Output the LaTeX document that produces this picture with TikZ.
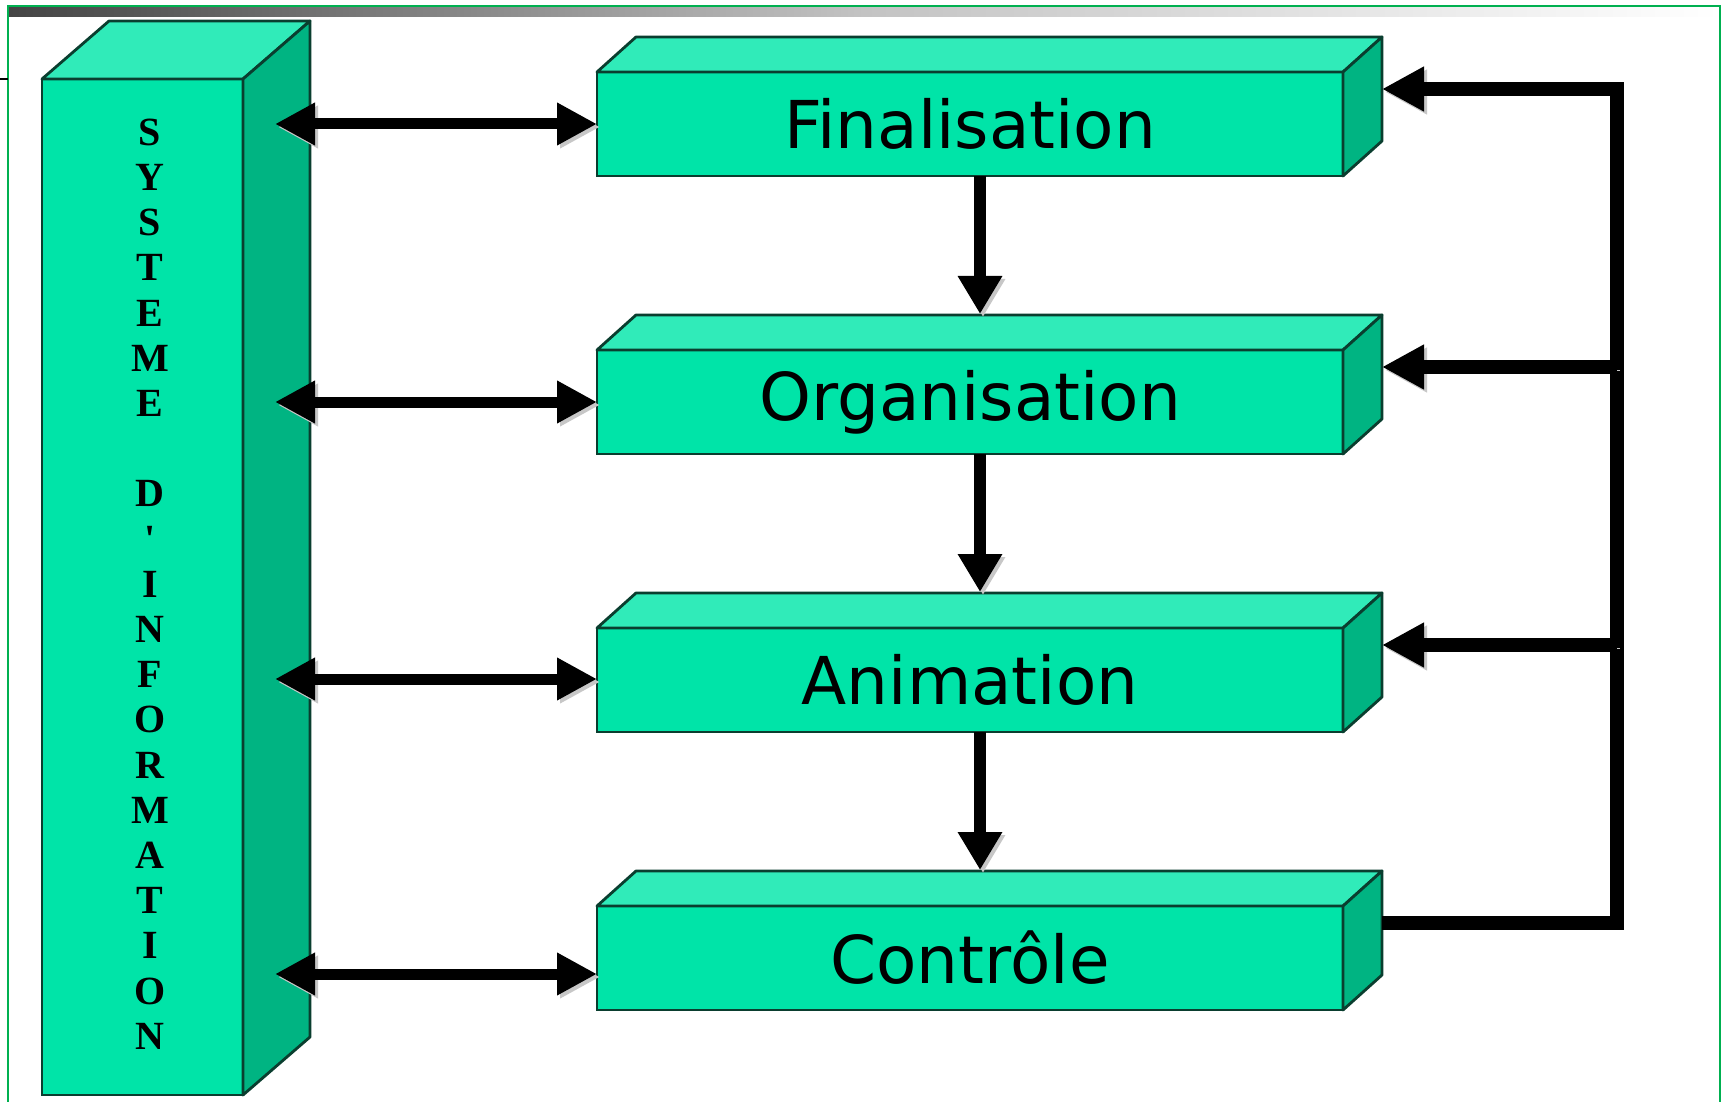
\documentclass[tikz,border=0pt]{standalone}
\usepackage{fontspec}
\newfontfamily\boxfont{DejaVu Sans}
\newfontfamily\colfont{Liberation Serif}[Ligatures=TeXOff]
\usetikzlibrary{arrows.meta,calc}
\definecolor{frontc}{HTML}{00E4A8}
\definecolor{topc}{HTML}{30EBB9}
\definecolor{sidec}{HTML}{00B482}
\definecolor{edgec}{HTML}{0A3E2F}
\definecolor{framec}{HTML}{00B050}
\definecolor{barL}{HTML}{444444}
\definecolor{barM}{HTML}{C3C3C3}
\begin{document}
\begin{tikzpicture}[x=0.5pt,y=-0.5pt,
  stage/.style={draw=edgec, line width=1.4pt, fill=frontc, minimum width=373pt,
    minimum height=52pt, inner sep=0pt, outer sep=0pt,
    font=\boxfont\fontsize{33}{40}\selectfont},
  pillar/.style={draw=edgec, line width=1.4pt, fill=frontc, minimum width=100.5pt,
    minimum height=508pt, inner sep=0pt, outer sep=0pt},
  topface/.style={fill=topc, draw=edgec, line width=1.4pt, line join=round},
  sideface/.style={fill=sidec, draw=edgec, line width=1.4pt, line join=round},
  shadowed/.style={preaction={draw=black!22, transform canvas={xshift=1.5pt,yshift=-1.5pt}}},
  link/.style={shadowed, line width=5.5pt, {Triangle[length=20pt,width=20pt]}-{Triangle[length=20pt,width=20pt]}},
  flow/.style={shadowed, line width=6pt, -{Triangle[length=19pt,width=21pt]}},
  feedback/.style={shadowed, line width=7pt, -{Triangle[length=21pt,width=21pt]}},
]
\useasboundingbox (0,0) rectangle (1721,1102);
\fill[white] (0,0) rectangle (1721,1102);
% header bar and frame
\shade[left color=barL, right color=white, middle color=barM] (9,7) rectangle (1719,17);
\draw[framec, line width=0.8pt] (8,1110) -- (8,6) -- (1720,6) -- (1720,1110);
\draw[black, line width=0.8pt] (0,79) -- (8,79);
% information system pillar
\node[pillar] (si) at (142.5,587) {};
\filldraw[topface] (si.north west) -- ++(67,-58) -- ($(si.north east)+(67,-58)$) -- (si.north east) -- cycle;
\filldraw[sideface] (si.north east) -- ++(67,-58) -- ($(si.south east)+(67,-58)$) -- (si.south east) -- cycle;
\node[font=\colfont\bfseries\fontsize{20}{22.6}\selectfont, align=center, inner sep=0pt] (sitext) at (150,584)
  {S\\Y\\S\\T\\E\\M\\E\\\mbox{}\\D\\'\\I\\N\\F\\O\\R\\M\\A\\T\\I\\O\\N};
% stages
\foreach \n/\y/\t in {f1/124/Finalisation, f2/402/Organisation, f3/680/Animation, f4/958/Contrôle} {
  \node[stage] (\n) at (970,\y) {\t};
  \filldraw[topface] (\n.north west) -- ++(39,-35) -- ($(\n.north east)+(39,-35)$) -- (\n.north east) -- cycle;
  \filldraw[sideface] (\n.north east) -- ++(39,-35) -- ($(\n.south east)+(39,-35)$) -- (\n.south east) -- cycle;
  \coordinate (\n-s) at ($(\n.east)+(39,-35)$);
}
% vertical flow
\draw[flow] ($(f1.south)+(10,0)$) -- ($(f2.north)+(10,-36)$);
\draw[flow] ($(f2.south)+(10,0)$) -- ($(f3.north)+(10,-36)$);
\draw[flow] ($(f3.south)+(10,0)$) -- ($(f4.north)+(10,-36)$);
% links with the information system
\coordinate (col) at (275,0);
\draw[link] (col |- f1.west) -- (f1.west);
\draw[link] (col |- f2.west) -- (f2.west);
\draw[link] ($(col |- f3.west)+(0,-1)$) -- ($(f3.west)+(0,-1)$);
\draw[link] ($(col |- f4.west)+(0,16)$) -- ($(f4.west)+(0,16)$);
% feedback loop
\coordinate (rail) at (1617,0);
\draw[feedback] (f4-s) -- (f4-s -| rail) -- (f1-s -| rail) -- (f1-s);
\draw[feedback] (f2-s -| rail) -- (f2-s);
\draw[feedback] (f3-s -| rail) -- (f3-s);
\end{tikzpicture}
\end{document}
